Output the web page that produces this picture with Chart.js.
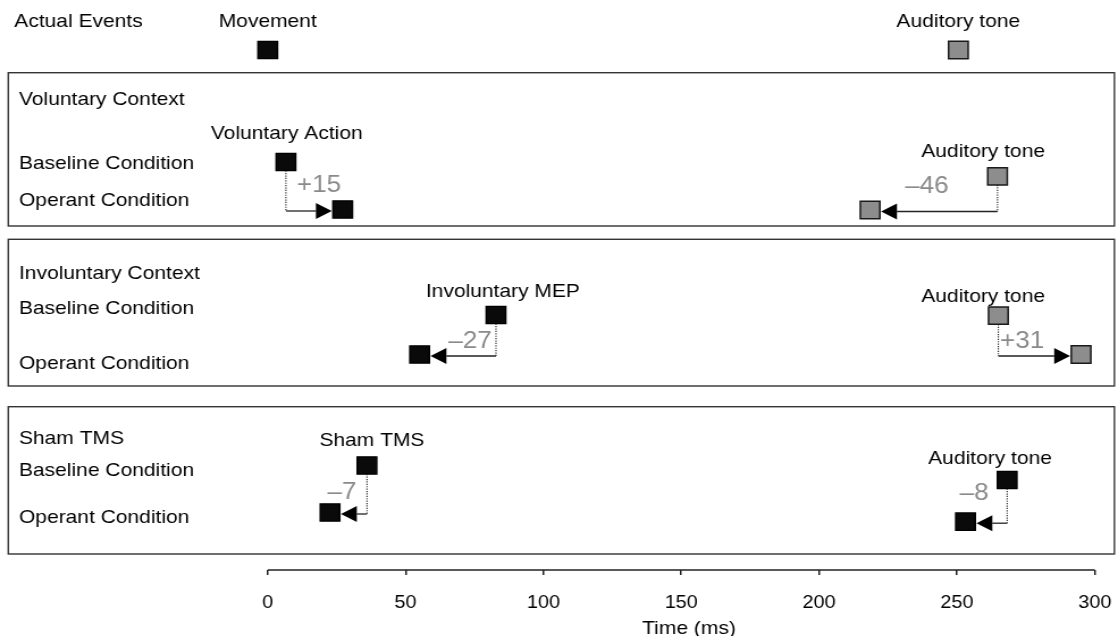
<!DOCTYPE html>
<html>
<head>
<meta charset="utf-8">
<script src="https://cdn.jsdelivr.net/npm/chart.js@4.4.0/dist/chart.umd.min.js"></script>
<style>
  html, body { margin: 0; padding: 0; background: #fff; overflow: hidden; }
  /* the original figure is stretched horizontally, so draw narrow and stretch */
  #wrap { width: 985px; height: 636px; transform: scaleX(1.135); transform-origin: 0 0; }
</style>
</head>
<body>
<div id="wrap"><canvas id="myChart"></canvas></div>
<script>
// times in ms
const actualNames = ['Movement', 'Auditory tone'];
const actualTimes = [0, 250.5];

const panelTitles = ['Voluntary Context', 'Involuntary Context', 'Sham TMS'];
const volEvents = ['Voluntary Action', 'Auditory tone'];
const volBaseline = [6.6, 264.7];
const volOperant = [27.2, 218.5];
const volShift = ['+15', '\u201346'];

const invEvents = ['Involuntary MEP', 'Auditory tone'];
const invBaseline = [82.8, 265];
const invOperant = [55.1, 295];
const invShift = ['\u201327', '+31'];

const shamEvents = ['Sham TMS', 'Auditory tone'];
const shamBaseline = [36, 268.2];
const shamOperant = [22.6, 253.1];
const shamShift = ['\u20137', '\u20138'];

const tickValues = [0, 50, 100, 150, 200, 250, 300];

// layout: y values are in the y scale (0 at top, 570 at the time axis)
const layout = {
  boxMs: [-94.1, 307.1],
  boxY: [[72.7, 226], [239.3, 386], [406.7, 554]],
  titleY: [98, 272, 437],
  baseLabelY: [162, 307, 469],
  opLabelY: [199, 362, 516],
  eventLabelMs: [[6.9, 259.5], [85.3, 259.5], [37.8, 262]],
  eventLabelY: [[132, 150], [290, 295], [439, 457]],
  baseSqY: [[162, 176.3], [315, 315.7], [465.5, 480]],
  opSqY: [[209.5, 210], [354.5, 354.5], [512.5, 521.7]],
  shiftMs: [[18.6, 239.1], [73.4, 273.6], [26.9, 256.2]],
  shiftY: [[184, 185], [340, 340], [491, 491.5]],
  gray: [[false, true], [false, true], [false, false]],
  actualY: 50, actualLabelY: 20
};

const panels = [
  { events: volEvents, baseline: volBaseline, operant: volOperant, shift: volShift },
  { events: invEvents, baseline: invBaseline, operant: invOperant, shift: invShift },
  { events: shamEvents, baseline: shamBaseline, operant: shamOperant, shift: shamShift }
];

const FONT = '"Liberation Sans", Arial, Helvetica, sans-serif';
const SQ_R = 12.2;                 // rect point radius
const SQ_HALF = SQ_R * Math.SQRT1_2;

let blackPts = [], grayPts = [];
actualTimes.forEach((t, i) => {
  (i === 1 ? grayPts : blackPts).push({x: t, y: layout.actualY});
});
panels.forEach((p, k) => {
  p.baseline.forEach((t, i) => {
    let target = layout.gray[k][i] ? grayPts : blackPts;
    target.push({x: t, y: layout.baseSqY[k][i]});
    target.push({x: p.operant[i], y: layout.opSqY[k][i]});
  });
});

function txt(ctx, s, x, y, size, color, align) {
  ctx.font = size + 'px ' + FONT;
  ctx.fillStyle = color;
  ctx.textAlign = align;
  ctx.textBaseline = 'alphabetic';
  ctx.fillText(s, x, y + 0.36 * size);
}

const decor = {
  id: 'decor',
  beforeDatasetsDraw(chart) {
    const ctx = chart.ctx, xs = chart.scales.x, ys = chart.scales.y;
    ctx.save();
    // panel boxes
    ctx.strokeStyle = '#333';
    ctx.lineWidth = 1.4;
    const bl = xs.getPixelForValue(layout.boxMs[0]), br = xs.getPixelForValue(layout.boxMs[1]);
    layout.boxY.forEach(b => {
      const t = ys.getPixelForValue(b[0]), bt = ys.getPixelForValue(b[1]);
      ctx.strokeRect(bl, t, br - bl, bt - t);
    });
    // connectors baseline -> operant
    panels.forEach((p, k) => {
      p.baseline.forEach((t, i) => {
        const bx = xs.getPixelForValue(t), by = ys.getPixelForValue(layout.baseSqY[k][i]);
        const ox = xs.getPixelForValue(p.operant[i]), oy = ys.getPixelForValue(layout.opSqY[k][i]);
        const ly = oy + 1.5;
        const dir = ox > bx ? 1 : -1;
        const tip = ox - dir * (SQ_HALF + 1);
        const back = tip - dir * 14;
        ctx.strokeStyle = '#222';
        ctx.setLineDash([1.2, 1.2]);
        ctx.lineWidth = 1.1;
        ctx.beginPath();
        ctx.moveTo(bx, by + SQ_HALF);
        ctx.lineTo(bx, ly);
        ctx.stroke();
        ctx.setLineDash([]);
        ctx.lineWidth = 1.3;
        ctx.beginPath();
        ctx.moveTo(bx, ly);
        ctx.lineTo(back, ly);
        ctx.stroke();
        ctx.fillStyle = '#000';
        ctx.beginPath();
        ctx.moveTo(tip, ly);
        ctx.lineTo(back, ly - 8);
        ctx.lineTo(back, ly + 8);
        ctx.closePath();
        ctx.fill();
      });
    });
    ctx.restore();
  },
  afterDatasetsDraw(chart) {
    const ctx = chart.ctx, xs = chart.scales.x, ys = chart.scales.y;
    const Y = v => ys.getPixelForValue(v);
    ctx.save();
    const lx = 16.7;
    txt(ctx, 'Actual Events', 12.6, Y(layout.actualLabelY), 18.5, '#000', 'left');
    actualNames.forEach((n, i) => {
      txt(ctx, n, xs.getPixelForValue(actualTimes[i]), Y(layout.actualLabelY), 18.5, '#000', 'center');
    });
    panelTitles.forEach((title, k) => {
      txt(ctx, title, lx, Y(layout.titleY[k]), 18.5, '#000', 'left');
      txt(ctx, 'Baseline Condition', lx, Y(layout.baseLabelY[k]), 18.5, '#000', 'left');
      txt(ctx, 'Operant Condition', lx, Y(layout.opLabelY[k]), 18.5, '#000', 'left');
      const p = panels[k];
      p.events.forEach((e, i) => {
        txt(ctx, e, xs.getPixelForValue(layout.eventLabelMs[k][i]), Y(layout.eventLabelY[k][i]), 18.5, '#000', 'center');
        txt(ctx, p.shift[i], xs.getPixelForValue(layout.shiftMs[k][i]), Y(layout.shiftY[k][i]), 23, '#8a8a8a', 'center');
      });
    });
    // time axis line and title
    const ay = chart.chartArea.bottom;
    ctx.strokeStyle = '#222';
    ctx.lineWidth = 1.5;
    ctx.beginPath();
    ctx.moveTo(xs.getPixelForValue(tickValues[0]), ay);
    ctx.lineTo(xs.getPixelForValue(tickValues[tickValues.length - 1]), ay);
    ctx.stroke();
    txt(ctx, 'Time (ms)', xs.getPixelForValue(152.8), 627, 18.5, '#000', 'center');
    ctx.restore();
  }
};

const ctx = document.getElementById('myChart').getContext('2d');
const myChart = new Chart(ctx, {
  type: 'scatter',
  data: {
    datasets: [{
      label: 'events',
      data: blackPts,
      pointStyle: 'rect',
      pointRadius: SQ_R,
      backgroundColor: '#0a0a0a',
      borderColor: '#000',
      borderWidth: 1.4
    }, {
      label: 'tones',
      data: grayPts,
      pointStyle: 'rect',
      pointRadius: SQ_R,
      backgroundColor: '#8d8d8d',
      borderColor: '#1a1a1a',
      borderWidth: 1.5
    }]
  },
  options: {
    responsive: true,
    maintainAspectRatio: false,
    animation: false,
    layout: { padding: 0, autoPadding: false },
    plugins: { legend: { display: false }, tooltip: { enabled: false } },
    scales: {
      x: {
        type: 'linear',
        min: -97.1,
        max: 308.4,
        afterBuildTicks: s => { s.ticks = tickValues.map(v => ({value: v})); },
        afterFit: s => { s.height = 66; s.paddingLeft = 0; s.paddingRight = 0; },
        ticks: {
          color: '#000',
          font: { size: 17.5, family: FONT },
          padding: 18,
          maxRotation: 0,
          autoSkip: false,
          callback: v => String(v)
        },
        grid: { drawOnChartArea: false, drawTicks: true, tickLength: 5, color: '#222', lineWidth: 1.5 },
        border: { display: false }
      },
      y: { type: 'linear', min: 0, max: 570, reverse: true, display: false }
    }
  },
  plugins: [decor]
});
</script>
</body>
</html>
